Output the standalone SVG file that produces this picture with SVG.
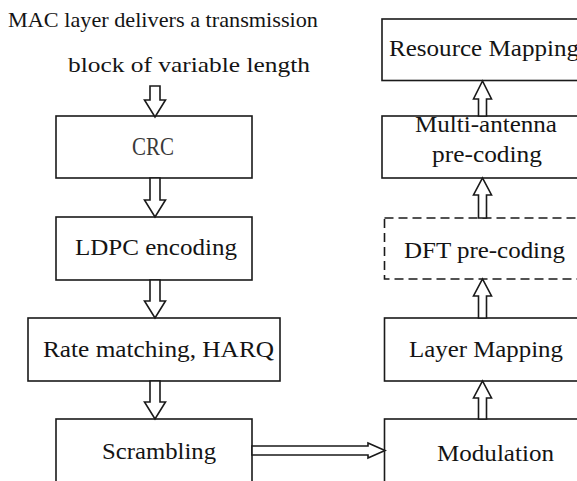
<svg xmlns="http://www.w3.org/2000/svg" width="577" height="481" viewBox="0 0 577 481">
  <style>
    .box { fill: #ffffff; stroke: #1a1a1a; stroke-width: 1.6; }
    .dash { fill: #ffffff; stroke: #1a1a1a; stroke-width: 1.6; stroke-dasharray: 9 5; }
    .arrow { fill: #ffffff; stroke: #1a1a1a; stroke-width: 1.6; stroke-linejoin: miter; }
    .t { font-family: "Liberation Serif", "Times New Roman", serif; fill: #141414; font-size: 23px; }
    .head { font-size: 22px; }
    .crc { font-size: 26px; fill: #3a3a3a; }
    .big { font-size: 24px; }
  </style>
  <rect width="577" height="481" fill="#ffffff"/>

  <!-- header text -->
  <g id="header">
    <text class="t head" x="8" y="27" textLength="310" lengthAdjust="spacingAndGlyphs">MAC layer delivers a transmission</text>
    <text class="t head" x="68" y="72" textLength="242" lengthAdjust="spacingAndGlyphs">block of variable length</text>
  </g>

  <!-- left column -->
  <g id="crc">
    <rect class="box" x="56" y="116" width="196" height="62"/>
    <text class="t crc" x="132" y="155" textLength="42" lengthAdjust="spacingAndGlyphs">CRC</text>
  </g>
  <g id="ldpc">
    <rect class="box" x="56" y="217" width="196" height="63"/>
    <text class="t big" x="75" y="255" textLength="162" lengthAdjust="spacingAndGlyphs">LDPC encoding</text>
  </g>
  <g id="rate-matching">
    <rect class="box" x="28" y="318" width="252" height="63"/>
    <text class="t" x="43" y="357" textLength="231" lengthAdjust="spacingAndGlyphs">Rate matching, HARQ</text>
  </g>
  <g id="scrambling">
    <rect class="box" x="56" y="419" width="196" height="80"/>
    <text class="t" x="102" y="459" textLength="114" lengthAdjust="spacingAndGlyphs">Scrambling</text>
  </g>

  <!-- right column -->
  <g id="resource-mapping">
    <rect class="box" x="382" y="19" width="210" height="61.5"/>
    <text class="t" x="389" y="56" textLength="190" lengthAdjust="spacingAndGlyphs">Resource Mapping</text>
  </g>
  <g id="multi-antenna">
    <rect class="box" x="382" y="116" width="210" height="62"/>
    <text class="t" x="415" y="132" textLength="142" lengthAdjust="spacingAndGlyphs">Multi-antenna</text>
    <text class="t" x="432" y="162" textLength="110" lengthAdjust="spacingAndGlyphs">pre-coding</text>
  </g>
  <g id="dft-precoding">
    <rect class="dash" x="384.5" y="218" width="210" height="61"/>
    <text class="t" x="404" y="258" textLength="161" lengthAdjust="spacingAndGlyphs">DFT pre-coding</text>
  </g>
  <g id="layer-mapping">
    <rect class="box" x="384.5" y="318" width="210" height="63"/>
    <text class="t" x="409" y="357" textLength="154" lengthAdjust="spacingAndGlyphs">Layer Mapping</text>
  </g>
  <g id="modulation">
    <rect class="box" x="384.5" y="419" width="210" height="80"/>
    <text class="t" x="437" y="461" textLength="117" lengthAdjust="spacingAndGlyphs">Modulation</text>
  </g>

  <!-- hollow block arrows -->
  <g id="connectors">
    <!-- downward, left column (centre x = 155) -->
    <polygon class="arrow" points="150,86 160,86 160,100 165.5,100 155,117 144.5,100 150,100"/>
    <polygon class="arrow" points="150,178 160,178 160,200 165.5,200 155,217 144.5,200 150,200"/>
    <polygon class="arrow" points="150,280 160,280 160,301 165.5,301 155,318 144.5,301 150,301"/>
    <polygon class="arrow" points="150,381 160,381 160,402 165.5,402 155,419 144.5,402 150,402"/>
    <!-- horizontal, scrambling to modulation -->
    <polygon class="arrow" points="252,446 368,446 368,443 385,450.5 368,458 368,455 252,455"/>
    <!-- upward, right column (centre x = 482.5) -->
    <polygon class="arrow" points="478.5,419 486.5,419 486.5,398 491.5,398 482.5,381 473.5,398 478.5,398"/>
    <polygon class="arrow" points="478.5,318 486.5,318 486.5,296 491.5,296 482.5,279 473.5,296 478.5,296"/>
    <polygon class="arrow" points="478.5,218 486.5,218 486.5,195 491.5,195 482.5,178 473.5,195 478.5,195"/>
    <polygon class="arrow" points="478.5,116 486.5,116 486.5,99 491.5,99 482.5,81 473.5,99 478.5,99"/>
  </g>
</svg>
